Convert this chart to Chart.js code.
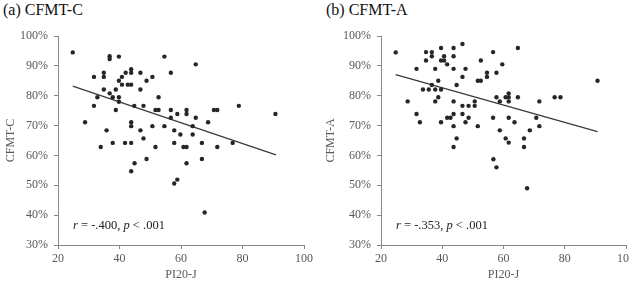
<!DOCTYPE html>
<html>
<head>
<meta charset="utf-8">
<script src="https://cdn.jsdelivr.net/npm/chart.js@4"></script>
<style>
  html, body { margin: 0; padding: 0; background: #fff; }
  body { width: 629px; height: 285px; overflow: hidden; position: relative; }
  .panel { position: absolute; top: 0; height: 285px; }
  .title { position: absolute; top: 1px; font: 16px "Liberation Serif", serif; color: #111; }
</style>
</head>
<body>
<div class="title" style="left:3px">(a) CFMT-C</div>
<div class="title" style="left:326px">(b) CFMT-A</div>
<div class="panel" style="left:0;width:314px"><canvas id="chartC" width="314" height="285"></canvas></div>
<div class="panel" style="left:314px;width:330px"><canvas id="chartA" width="330" height="285"></canvas></div>
<script>
// PI20-J score vs CFMT accuracy (%)
const xTicks = [20, 40, 60, 80, 100];
const yTicks = [30, 40, 50, 60, 70, 80, 90, 100];

const cfmtC_x = [24.8, 36.8, 36.8, 39.8, 54.6, 64.8, 31.7, 34.9, 34.9, 42.0, 43.8, 43.8, 46.8, 50.7,
  56.7, 40.8, 39.8, 48.8, 40.8, 42.7, 43.8, 34.9, 38.8, 46.8, 36.8, 32.8, 37.8, 39.8, 39.8, 52.7,
  31.7, 44.8, 47.8, 78.8, 38.8, 51.7, 52.7, 56.7, 61.8, 70.7, 71.8, 90.7, 58.8, 61.8, 56.7, 64.8,
  28.8, 68.8, 43.8, 43.8, 50.7, 54.6, 63.8, 35.8, 46.8, 57.8, 59.8, 63.8, 47.8, 33.9, 37.8, 41.8,
  43.8, 51.7, 57.8, 60.8, 61.8, 66.8, 71.8, 76.8, 44.9, 48.8, 43.8, 61.8, 66.8, 58.8, 57.8, 67.7];
const cfmtC_y = [94.5, 93.2, 92.3, 93.1, 93.1, 90.5, 86.3, 87.7, 86.3, 87.7, 88.9, 87.7, 87.7, 86.3,
  87.7, 86.3, 85.0, 85.0, 83.7, 83.7, 83.7, 82.1, 82.1, 82.1, 80.8, 79.5, 79.5, 79.5, 78.0, 79.5,
  76.6, 76.6, 76.6, 76.6, 75.2, 75.2, 75.2, 75.2, 75.2, 75.2, 75.2, 73.9, 73.9, 73.9, 72.6, 72.6,
  71.1, 71.1, 71.1, 69.8, 69.8, 69.8, 69.8, 68.4, 68.4, 68.4, 67.0, 67.0, 65.7, 62.8, 64.2, 64.2,
  64.2, 62.8, 64.2, 62.8, 62.8, 64.2, 62.8, 64.2, 57.4, 58.8, 54.7, 57.4, 58.8, 51.9, 50.6, 40.9];
const cfmtC_fitX = [24.8, 90.9];
const cfmtC_fitY = [83.2, 60.2];

const cfmtA_x = [24.8, 46.6, 64.7, 39.6, 43.7, 34.7, 36.6, 56.6, 36.6, 40.6, 43.7, 34.7, 39.6, 40.6,
  52.6, 41.6, 59.6, 31.6, 37.7, 43.7, 47.6, 57.7, 54.6, 54.6, 46.6, 90.7, 38.7, 51.6, 52.6, 44.7,
  36.6, 33.7, 35.6, 37.7, 39.6, 38.7, 57.7, 60.7, 61.7, 64.7, 76.7, 78.6, 28.7, 37.7, 43.7, 50.6,
  58.8, 61.7, 61.7, 71.7, 46.6, 48.6, 50.6, 31.6, 43.7, 46.6, 41.6, 42.7, 48.6, 56.6, 61.7, 70.7,
  32.7, 39.6, 47.6, 63.6, 43.7, 51.6, 71.7, 58.8, 68.6, 44.7, 60.7, 66.7, 61.7, 43.7, 66.7, 56.7,
  57.7, 67.7];
const cfmtA_y = [94.5, 97.3, 96.0, 96.0, 96.0, 94.6, 94.6, 94.6, 93.2, 93.2, 93.2, 91.8, 91.8, 91.8,
  91.8, 90.5, 90.5, 89.0, 89.0, 89.0, 89.0, 87.7, 87.7, 86.3, 86.3, 85.0, 85.0, 85.0, 85.0, 83.6,
  83.6, 82.1, 82.1, 82.1, 82.1, 79.5, 79.5, 79.5, 79.5, 79.5, 79.5, 79.5, 78.1, 78.1, 78.1, 78.1,
  78.1, 80.8, 78.1, 78.1, 76.6, 76.6, 76.6, 73.9, 73.9, 73.9, 72.6, 72.6, 72.6, 72.6, 72.6, 72.6,
  71.1, 71.1, 71.1, 71.1, 69.8, 69.8, 69.8, 68.4, 68.4, 65.7, 65.7, 65.7, 64.3, 62.8, 62.8, 58.7,
  56.0, 49.0];
const cfmtA_fitX = [24.8, 90.7];
const cfmtA_fitY = [87.1, 68.0];

const FONT = '"Liberation Serif", "Times New Roman", serif';
const GREY = '#595959';
const AXIS = '#868686';

function zip(xs, ys) { return xs.map((x, i) => ({ x: x, y: ys[i] })); }

// draws the "r = ..., p < ..." note in the lower-left of the plot area
const statNote = {
  id: 'statNote',
  afterDatasetsDraw(chart, args, opts) {
    const { ctx, chartArea } = chart;
    const parts = [['r', true], [' = ' + opts.r + ', ', false], ['p', true], [' < .001', false]];
    let x = chartArea.left + 15;
    const y = chartArea.bottom - 19;
    ctx.save();
    ctx.fillStyle = '#222';
    ctx.textBaseline = 'middle';
    parts.forEach(([t, it]) => {
      ctx.font = (it ? 'italic ' : '') + '12.5px ' + FONT;
      ctx.fillText(t, x, y);
      x += ctx.measureText(t).width;
    });
    ctx.restore();
  }
};

function makeChart(id, pts, fit, yTitle, r, yWidth, padRight, yTitlePad) {
  return new Chart(document.getElementById(id), {
    data: {
      datasets: [
        { type: 'scatter', data: pts, pointRadius: 2.2, pointHoverRadius: 2.2,
          backgroundColor: '#262626', borderWidth: 0 },
        { type: 'line', data: fit, borderColor: '#3a3a3a', borderWidth: 1.3,
          pointRadius: 0, fill: false }
      ]
    },
    options: {
      responsive: false,
      animation: false,
      layout: { padding: { top: 36, left: 0, right: padRight, bottom: 0 } },
      plugins: { legend: { display: false }, tooltip: { enabled: false }, statNote: { r: r } },
      scales: {
        x: {
          type: 'linear', min: 20, max: 100,
          afterBuildTicks: s => { s.ticks = xTicks.map(v => ({ value: v })); },
          afterFit: s => { s.height = 40; s.paddingLeft = 0; s.paddingRight = 0; },
          grid: { drawOnChartArea: false, drawTicks: true, tickLength: 4, color: AXIS },
          border: { color: AXIS, width: 1 },
          ticks: { color: GREY, padding: 3, maxRotation: 0, font: { family: FONT, size: 12 } },
          title: { display: true, text: 'PI20-J', color: GREY, padding: { top: 0, bottom: 3 },
                   font: { family: FONT, size: 12 } }
        },
        y: {
          type: 'linear', min: 30, max: 100,
          afterBuildTicks: s => { s.ticks = yTicks.map(v => ({ value: v })); },
          afterFit: s => { s.width = yWidth; s.paddingTop = 0; s.paddingBottom = 0; },
          grid: { drawOnChartArea: false, drawTicks: true, tickLength: 4, color: AXIS },
          border: { color: AXIS, width: 1 },
          ticks: { color: GREY, padding: 6, callback: v => v + '%', font: { family: FONT, size: 12 } },
          title: { display: true, text: yTitle, color: GREY, padding: { top: yTitlePad, bottom: 0 },
                   font: { family: FONT, size: 12 } }
        }
      }
    },
    plugins: [statNote]
  });
}

makeChart('chartC', zip(cfmtC_x, cfmtC_y), zip(cfmtC_fitX, cfmtC_fitY), 'CFMT-C', '-.400', 58, 10, 4);
makeChart('chartA', zip(cfmtA_x, cfmtA_y), zip(cfmtA_fitX, cfmtA_fitY), 'CFMT-A', '-.353', 67, 18, 10);
</script>
</body>
</html>
